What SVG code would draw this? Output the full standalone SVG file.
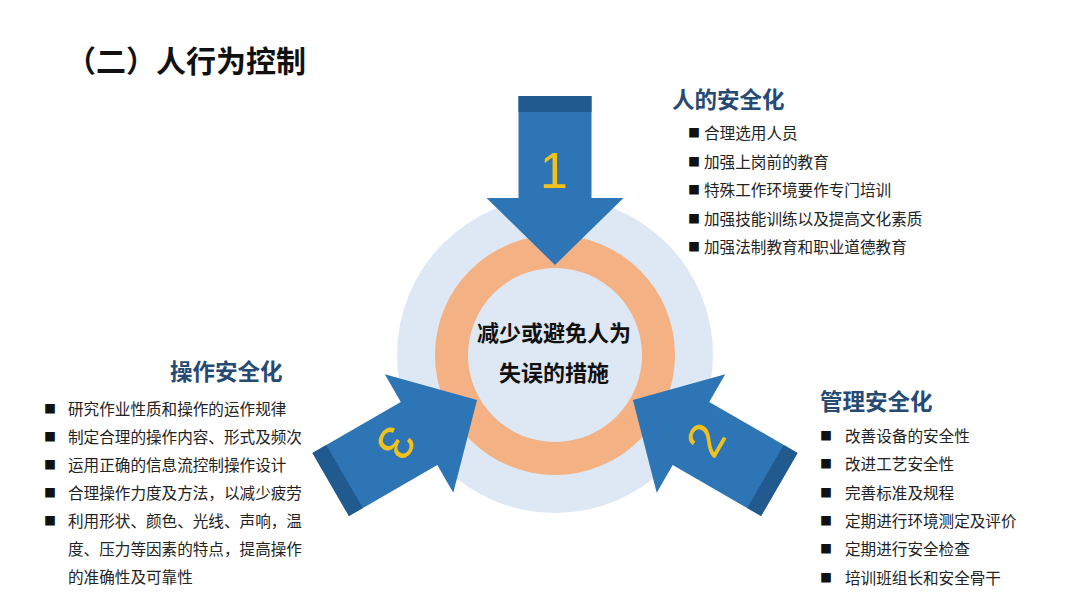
<svg xmlns="http://www.w3.org/2000/svg" width="1080" height="608" viewBox="0 0 1080 608">
<defs>
<style>
.t{font-family:"Noto Sans CJK SC","Noto Sans",sans-serif;}
.title{font-size:30px;font-weight:bold;fill:#111;}
.head{font-size:22.5px;font-weight:bold;fill:#264a73;}
.item{font-size:15.6px;fill:#222;}
.bul{font-size:12px;fill:#111;}
.ctr{font-size:22px;font-weight:bold;fill:#111;text-anchor:middle;}
.num{font-family:"Liberation Sans",Arial,sans-serif;font-size:50px;fill:#f2c21b;text-anchor:middle;dominant-baseline:central;}
.arr{fill:#2e75b6;}
.band{fill:#215a8f;}
</style>
<g id="arrowShape">
<polygon class="arr" points="-36.5,-259 36.5,-259 36.5,-157 68.5,-157 0,-90 -68.5,-157 -36.5,-157"/>
<rect class="band" x="-36.5" y="-259" width="73" height="16"/>
</g>
</defs>
<rect width="1080" height="608" fill="#fff"/>
<text class="t title" x="66" y="72">（二）人行为控制</text>

<g id="core">
<circle cx="555" cy="355" r="158" fill="#dee8f4"/>
<circle cx="555" cy="355" r="120" fill="#f4b183"/>
<circle cx="555" cy="355" r="87" fill="#dee8f4"/>
<text class="t ctr" x="554" y="341">减少或避免人为</text>
<text class="t ctr" x="554" y="381">失误的措施</text>
</g>

<g id="connectors">
<g id="arrow1">
<use href="#arrowShape" transform="translate(555 355)"/>
<text class="num" x="554" y="171">1</text>
</g>
<g id="arrow2">
<use href="#arrowShape" transform="translate(555 355) rotate(120)"/>
<text class="num" transform="translate(706 440) rotate(-60)" x="0" y="0">2</text>
</g>
<g id="arrow3">
<use href="#arrowShape" transform="translate(555 355) rotate(-120)"/>
<text class="num" transform="translate(396 443) rotate(120)" x="0" y="0">3</text>
</g>
</g>

<g id="node-person">
<text class="t head" x="672" y="108">人的安全化</text>
<g class="t">
<text class="bul" x="688" y="138">■</text><text class="item" x="704" y="139">合理选用人员</text>
<text class="bul" x="688" y="166.5">■</text><text class="item" x="704" y="167.5">加强上岗前的教育</text>
<text class="bul" x="688" y="195">■</text><text class="item" x="704" y="196">特殊工作环境要作专门培训</text>
<text class="bul" x="688" y="223.5">■</text><text class="item" x="704" y="224.5">加强技能训练以及提高文化素质</text>
<text class="bul" x="688" y="252">■</text><text class="item" x="704" y="253">加强法制教育和职业道德教育</text>
</g>
</g>

<g id="node-operation">
<text class="t head" x="170" y="380">操作安全化</text>
<g class="t">
<text class="bul" x="44" y="414">■</text><text class="item" x="68" y="415">研究作业性质和操作的运作规律</text>
<text class="bul" x="44" y="442">■</text><text class="item" x="68" y="443">制定合理的操作内容、形式及频次</text>
<text class="bul" x="44" y="470">■</text><text class="item" x="68" y="471">运用正确的信息流控制操作设计</text>
<text class="bul" x="44" y="498">■</text><text class="item" x="68" y="499">合理操作力度及方法，以减少疲劳</text>
<text class="bul" x="44" y="526">■</text><text class="item" x="68" y="527">利用形状、颜色、光线、声响，温</text>
<text class="item" x="68" y="555">度、压力等因素的特点，提高操作</text>
<text class="item" x="68" y="583">的准确性及可靠性</text>
</g>
</g>

<g id="node-management">
<text class="t head" x="820" y="410">管理安全化</text>
<g class="t">
<text class="bul" x="820" y="441">■</text><text class="item" x="845" y="442">改善设备的安全性</text>
<text class="bul" x="820" y="469">■</text><text class="item" x="845" y="470">改进工艺安全性</text>
<text class="bul" x="820" y="498">■</text><text class="item" x="845" y="499">完善标准及规程</text>
<text class="bul" x="820" y="526">■</text><text class="item" x="845" y="527">定期进行环境测定及评价</text>
<text class="bul" x="820" y="554">■</text><text class="item" x="845" y="555">定期进行安全检查</text>
<text class="bul" x="820" y="583">■</text><text class="item" x="845" y="584">培训班组长和安全骨干</text>
</g>
</g>
</svg>
